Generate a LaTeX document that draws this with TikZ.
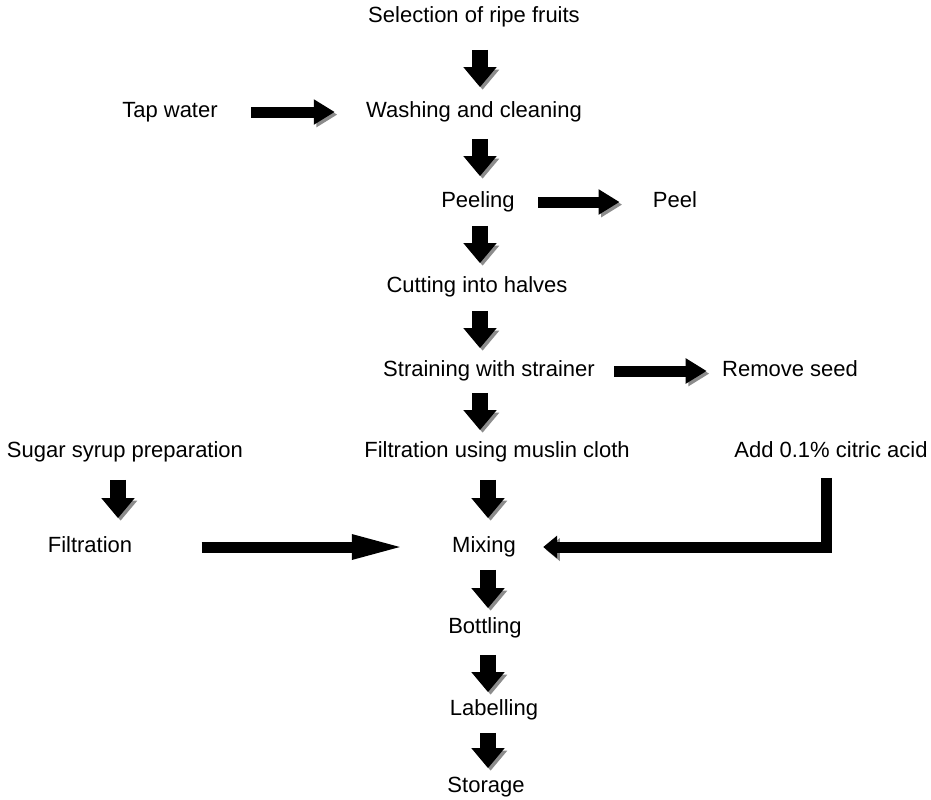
\documentclass[tikz,border=0pt]{standalone}
\usepackage{fontspec}
\setmainfont{Liberation Sans}
\usetikzlibrary{arrows.meta}

\tikzset{
  lbl/.style={font=\fontsize{11}{13}\selectfont, inner sep=0pt, text height=0.75em, text depth=0.2em},
  shade/.style={preaction={draw=black!45, transform canvas={shift={(1.3pt,-1.3pt)}}}},
  downarr/.style 2 args={shade, line width=8pt, -{Triangle[width=16pt,length=10pt]}, shorten <=#1, shorten >=#2},
  sidearr/.style 2 args={shade, line width=5.5pt, -{Triangle[width=12pt,length=10.5pt]}, shorten <=#1, shorten >=#2}
}

\begin{document}
\begin{tikzpicture}[x=0.5pt,y=-0.5pt]
\useasboundingbox (0,0) rectangle (931,799);
% main line
\node[lbl] (sel) at (474,17) {Selection of ripe fruits};
\node[lbl] (wash) at (474,112) {Washing and cleaning};
\node[lbl] (peeling) at (478,202) {Peeling};
\node[lbl] (cut) at (477,287) {Cutting into halves};
\node[lbl] (strain) at (489,371) {Straining with strainer};
\node[lbl] (filt) at (497,452) {Filtration using muslin cloth};
\node[lbl] (mix) at (484,547) {Mixing};
\node[lbl] (bottle) at (485,628) {Bottling};
\node[lbl] (label) at (494,710) {Labelling};
\node[lbl] (storage) at (486,787) {Storage};
% side inputs and outputs
\node[lbl] (tap) at (170,112) {Tap water};
\node[lbl] (peel) at (675,202) {Peel};
\node[lbl] (seed) at (790,371) {Remove seed};
\node[lbl] (citric) at (831,452) {Add 0.1\% citric acid};
\node[lbl] (sugar) at (125,452) {Sugar syrup preparation};
\node[lbl] (sugfilt) at (90,547) {Filtration};
\coordinate (spineA) at (480,0);
\coordinate (spineB) at (488,0);
\coordinate (sugcol) at (118,0);

\draw[downarr={11.5pt}{7.5pt}] (sel.south -| spineA) -- (wash.north -| spineA);
\draw[downarr={8.5pt}{8pt}] (wash.south -| spineA) -- (peeling.north -| spineA);
\draw[downarr={7pt}{7pt}] (peeling.south -| spineA) -- (cut.north -| spineA);
\draw[downarr={7pt}{6.5pt}] (cut.south -| spineA) -- (strain.north -| spineA);
\draw[downarr={6pt}{6pt}] (strain.south -| spineA) -- (filt.north -| spineA);
\draw[downarr={9pt}{9.5pt}] (filt.south -| spineB) -- (mix.north -| spineB);
\draw[downarr={6.5pt}{5pt}] (mix.south -| spineB) -- (bottle.north -| spineB);
\draw[downarr={8.5pt}{4pt}] (bottle.south -| spineB) -- (label.north -| spineB);
\draw[downarr={6.5pt}{4.5pt}] (label.south -| spineB) -- (storage.north -| spineB);
\draw[downarr={9pt}{9.5pt}] (sugar.south -| sugcol) -- (sugfilt.north -| sugcol);

\draw[sidearr={16.5pt}{15.5pt}] (tap) -- (wash);
\draw[sidearr={11.5pt}{16.5pt}] (peeling) -- (peel);
\draw[sidearr={9.5pt}{7.5pt}] (strain) -- (seed);
\draw[sidearr={34.5pt}{22.5pt}, -{Triangle[width=11pt,length=27.5pt]}] (sugfilt) -- (mix);
\draw[sidearr={8pt}{13.5pt}, -{Triangle[width=11pt,length=7pt]}] ([xshift=-2.5pt]citric.south) |- (mix.east);
\end{tikzpicture}
\end{document}
